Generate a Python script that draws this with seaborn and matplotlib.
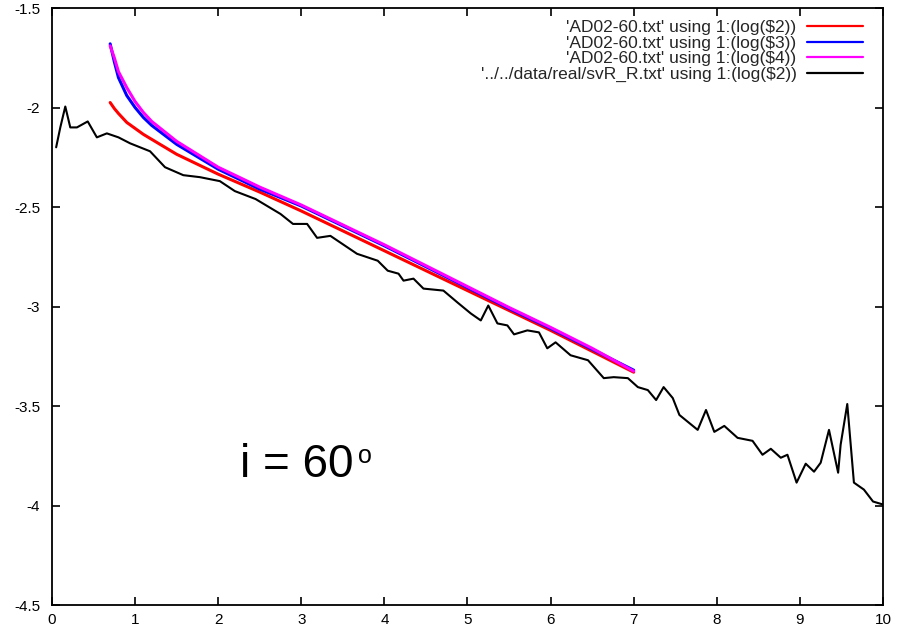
import numpy as np
import pandas as pd
import matplotlib
matplotlib.use("Agg")
import matplotlib.pyplot as plt
import seaborn as sns

# ---- data ----
model_x = [0.7, 0.75, 0.8, 0.9, 1.0, 1.1, 1.2, 1.5, 2.0, 2.5, 3.0, 3.5, 4.0, 4.5, 5.0, 5.5, 6.0, 6.5, 7.0]
red_y = [-1.975, -2.005, -2.03, -2.075, -2.105, -2.135, -2.16, -2.235, -2.335, -2.425, -2.52, -2.62, -2.72,
         -2.82, -2.92, -3.02, -3.12, -3.225, -3.33]
blue_y = [-1.68, -1.77, -1.85, -1.94, -2.0, -2.05, -2.09, -2.185, -2.31, -2.41, -2.495, -2.595, -2.695,
          -2.8, -2.905, -3.01, -3.11, -3.215, -3.32]
magenta_y = [-1.69, -1.75, -1.82, -1.9, -1.97, -2.025, -2.07, -2.17, -2.3, -2.4, -2.49, -2.59, -2.69,
             -2.795, -2.9, -3.005, -3.105, -3.21, -3.325]

real_x = [0.05, 0.1, 0.16, 0.22, 0.3, 0.43, 0.54, 0.66, 0.8, 0.94, 1.18, 1.36, 1.58, 1.78, 2.02, 2.2, 2.45,
          2.69, 2.75, 2.9, 3.07, 3.19, 3.35, 3.67, 3.92, 4.04, 4.17, 4.23, 4.35, 4.47, 4.71, 4.88, 5.04,
          5.16, 5.25, 5.36, 5.48, 5.56, 5.72, 5.86, 5.96, 6.06, 6.24, 6.45, 6.64, 6.76, 6.93, 7.05, 7.17,
          7.27, 7.36, 7.47, 7.55, 7.77, 7.87, 7.97, 8.09, 8.25, 8.43, 8.55, 8.65, 8.77, 8.85, 8.96, 9.07,
          9.17, 9.25, 9.35, 9.46, 9.49, 9.57, 9.65, 9.77, 9.88, 10.0]
real_y = [-2.2, -2.1, -1.995, -2.1, -2.1, -2.07, -2.15, -2.13, -2.15, -2.18, -2.22, -2.3, -2.34, -2.35, -2.37,
          -2.42, -2.46, -2.52, -2.535, -2.585, -2.585, -2.655, -2.645, -2.735, -2.77, -2.82, -2.835, -2.87,
          -2.86, -2.91, -2.92, -2.98, -3.035, -3.07, -2.995, -3.085, -3.095, -3.14, -3.12, -3.13, -3.21,
          -3.18, -3.245, -3.27, -3.36, -3.355, -3.36, -3.405, -3.42, -3.47, -3.405, -3.46, -3.545, -3.62,
          -3.52, -3.63, -3.6, -3.66, -3.675, -3.745, -3.715, -3.76, -3.745, -3.885, -3.79, -3.83, -3.785,
          -3.62, -3.835, -3.695, -3.49, -3.885, -3.92, -3.98, -3.995]

labels = ["'AD02-60.txt' using 1:(log($2))",
          "'AD02-60.txt' using 1:(log($3))",
          "'AD02-60.txt' using 1:(log($4))",
          "'../../data/real/svR_R.txt' using 1:(log($2))"]
colors = ["#ff0000", "#0000ff", "#ff00ff", "#000000"]

x_ticks = [0, 1, 2, 3, 4, 5, 6, 7, 8, 9, 10]
y_ticks = [-4.5, -4, -3.5, -3, -2.5, -2, -1.5]
y_tick_labels = ["-4.5", "-4", "-3.5", "-3", "-2.5", "-2", "-1.5"]

# ---- plot ----
sns.set_style("ticks")
plt.rcParams['font.family'] = ['Liberation Sans', 'DejaVu Sans']

fig = plt.figure(figsize=(8.98, 6.31), dpi=100)
ax = fig.add_axes([0.0579, 0.0412, 0.9254, 0.9461])

series = [(model_x, red_y), (model_x, blue_y), (model_x, magenta_y), (real_x, real_y)]
for (xs, ys), lab, col in zip(series, labels, colors):
    lw = 1.5 if col == "#000000" else 2.2
    sns.lineplot(x=xs, y=ys, ax=ax, color=col, label=lab, linewidth=lw,
                 sort=False, estimator=None)

ax.set_xlim(0, 10)
ax.set_ylim(-4.5, -1.5)
ax.set_xticks(x_ticks)
ax.set_xticklabels([str(t) for t in x_ticks])
ax.set_yticks(y_ticks)
ax.set_yticklabels(y_tick_labels)
ax.tick_params(direction="in", top=True, right=True, length=6, width=1.2,
               labelsize=11, colors="black")
ax.tick_params(axis="x", pad=6)
ax.tick_params(axis="y", pad=8.5)
for s in ax.spines.values():
    s.set_visible(True)
    s.set_color("black")
    s.set_linewidth(1.3)

ax.set_xlabel("")
ax.set_ylabel("")

leg = ax.legend(loc="upper right", frameon=False, markerfirst=False, fontsize=12.5,
                handlelength=3.2, labelspacing=0.02, borderaxespad=0.3, handletextpad=0.6,
                bbox_to_anchor=(0.99, 1.0))
for h in leg.get_lines():
    h.set_linewidth(1.6)

ax.text(2.26, -3.857, "i = 60", fontsize=33, color="black", va="baseline", ha="left")
ax.text(3.68, -3.786, "o", fontsize=18, color="black", va="baseline", ha="left")

fig.savefig("out.png", dpi=100, facecolor="white")
